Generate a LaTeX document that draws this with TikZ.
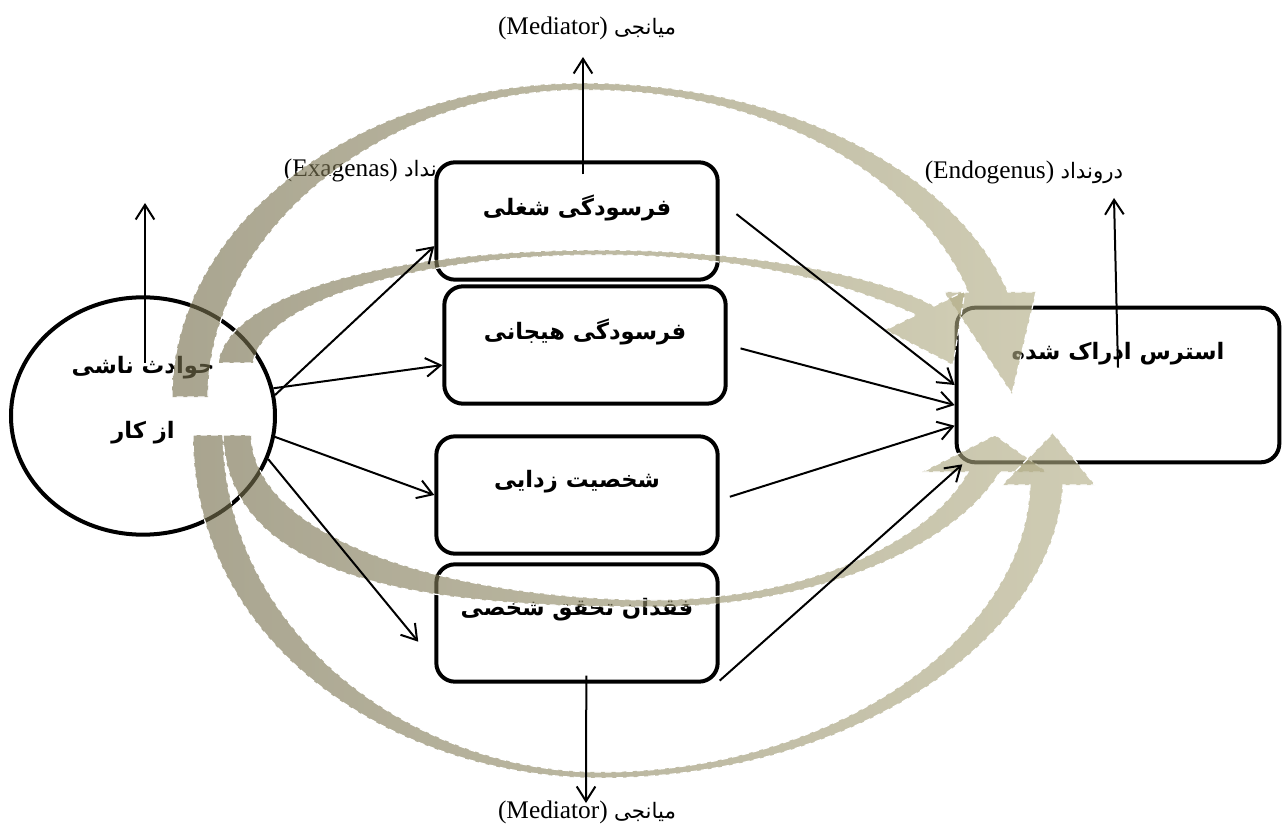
\documentclass[tikz,border=0pt]{standalone}
\usepackage{fontspec}
\setmainfont{Liberation Serif}
\newfontfamily\farsi[Script=Arabic]{DejaVu Sans}
\TeXXeTstate=1
\newcommand{\fa}[1]{{\farsi\beginR #1\endR}}
\newcommand{\fas}[1]{{\farsi\fontsize{16}{18}\selectfont\beginR #1\endR}}
\usepackage{tikz}
\usetikzlibrary{shapes.geometric,arrows.meta,positioning}
\definecolor{khakidark}{HTML}{756E4C}
\definecolor{khakilight}{HTML}{B2AD85}

\begin{document}
\begin{tikzpicture}[x=0.75pt,y=-0.75pt]
\tikzset{
	stagebox/.style = {draw, rounded corners=14pt, line width=3pt, fill=white, minimum width=211pt, minimum height=88pt, text height=12pt, text depth=20pt, font=\fontsize{17}{19}\selectfont\bfseries},
	eventnode/.style = {ellipse, draw, line width=3pt, fill=white, minimum width=198pt, minimum height=178pt},
	eventtext/.style = {align=center, inner sep=0pt, font=\fontsize{17}{49}\selectfont\bfseries},
	lbl/.style = {inner sep=0pt, font=\fontsize{19}{21}\selectfont},
	bigarrow/.style = {left color=khakidark, right color=khakilight, fill opacity=0.62, draw=white, dash pattern=on 5pt off 3pt, line width=0.9pt},
	thinarrow/.style = {line width=1.5pt, -{Straight Barb[length=11pt,width=14pt]}}
}
\useasboundingbox (0,0) rectangle (1282,827);

\node[lbl] (medT) at (587,28) {(Mediator) \fas{میانجی}};
\node[lbl] (medB) at (587,812) {(Mediator) \fas{میانجی}};
\node[lbl, anchor=east] (exo) at (465,170) {(Exagenas) \fas{برونداد}};
\node[lbl] (endo) at (1024,172) {(Endogenus) \fas{درونداد}};

\node[eventnode] (ev) at (143,416) {};
\node[eventtext] (evt) at ([yshift=12pt]ev.center) {\fa{حوادث ناشی}\\\fa{از کار}};

\node[stagebox] (b1) at (577,221) {\fa{فرسودگی شغلی}};
\node[stagebox] (b2) at (585,345) {\fa{فرسودگی هیجانی}};
\node[stagebox, text depth=24pt] (b3) at (577,495) {\fa{شخصیت زدایی}};
\node[stagebox, text depth=24pt] (b4) at (577,623) {\fa{فقدان تحقق شخصی}};
\node[stagebox, minimum width=242pt, minimum height=116pt, text depth=50pt] (s) at (1118,385) {\fa{استرس ادراک شده}};

\coordinate (exoT) at (145,203);
\coordinate (upT) at (583,57);
\coordinate (dnB) at (586,803);
\coordinate (endoT) at (1114,198);

% outer top
\path[bigarrow] (172,397) .. controls (172,225) and (356,83) .. (583,83)
	.. controls (800,83) and (960,180) .. (1008,292) -- (1036,292) -- (1012,394) -- (944,292) -- (968,292)
	.. controls (925,190) and (790,90) .. (583,90) .. controls (380,90) and (208,235) .. (208,397) -- cycle;
% inner top
\path[bigarrow] (218,363) .. controls (230,290) and (400,250) .. (600,250)
	.. controls (760,250) and (885,278) .. (934,306) -- (965,291) -- (953,365) -- (885,330) -- (916,315)
	.. controls (860,290) and (760,255) .. (600,255) .. controls (420,255) and (265,300) .. (253,363) -- cycle;
% inner bottom
\path[bigarrow] (223,435) .. controls (228,580) and (420,607) .. (650,607)
	.. controls (830,607) and (960,540) .. (1000,472) -- (1047,472) -- (995,435) -- (922,472) -- (968,472)
	.. controls (930,540) and (810,600) .. (650,600) .. controls (450,598) and (255,540) .. (251,435) -- cycle;
% outer bottom
\path[bigarrow] (193,435) .. controls (193,650) and (400,778) .. (600,778)
	.. controls (850,778) and (1055,640) .. (1063,485) -- (1095,485) -- (1053,433) -- (1002,485) -- (1030,485)
	.. controls (1025,640) and (830,772) .. (600,772) .. controls (420,772) and (226,640) .. (223,435) -- cycle;

\draw[thinarrow] (ev.9) -- (b1.190);
\draw[thinarrow] (ev.12) -- (b2.188);
\draw[thinarrow] (ev.-9) -- (b3.west);
\draw[thinarrow, shorten >=19pt] (ev.-19) -- (b4.195);

\draw[thinarrow, shorten <=16pt] (b1.8) -- (s.west);
\draw[thinarrow, shorten <=10pt] (b2.east) -- (s.187);
\draw[thinarrow, shorten <=8pt] (b3.-2) -- (s.194);
\draw[thinarrow] (b4.-22) -- (s.207);

\draw[thinarrow] ([xshift=1.5pt,yshift=40pt]ev.center) -- (exoT);
\draw[thinarrow] ([xshift=4.5pt,yshift=-10.5pt]b1.north) -- (upT);
\draw[thinarrow] ([xshift=7pt,yshift=6pt]b4.south) -- (dnB);
\draw[thinarrow] ([yshift=13pt]s.center) -- (endoT);

\end{tikzpicture}
\end{document}
